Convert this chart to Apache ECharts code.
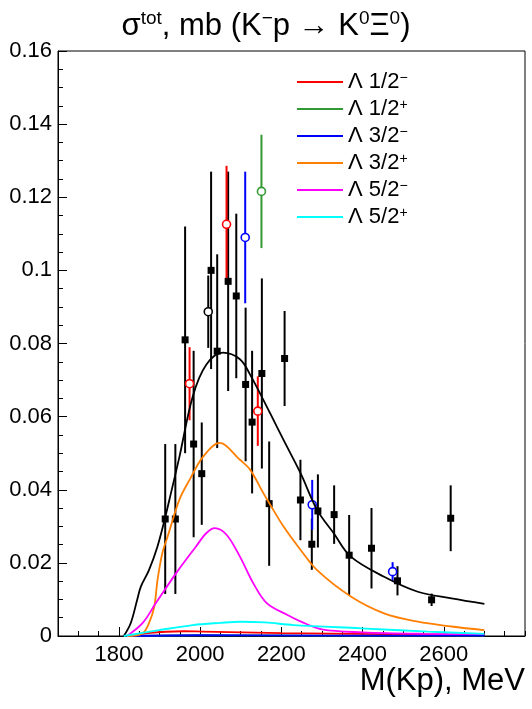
<!DOCTYPE html>
<html>
<head>
<meta charset="utf-8">
<script src="https://cdn.jsdelivr.net/npm/echarts@6/dist/echarts.min.js"></script>
<style>
  html, body { margin: 0; padding: 0; background: #fff; }
  #main { width: 532px; height: 709px; }
</style>
</head>
<body>
<div id="main"></div>
<script>
// measured points (black squares)
var sqX = [1914, 1939, 1963, 1984, 2004, 2027, 2042, 2069, 2089, 2112, 2128, 2152, 2170, 2208, 2247, 2275, 2290, 2330, 2367, 2422, 2486, 2570, 2617];
var sqY = [0.032, 0.032, 0.081, 0.0525, 0.0444, 0.100, 0.0779, 0.097, 0.093, 0.0688, 0.0585, 0.0718, 0.0362, 0.0759, 0.0372, 0.0251, 0.0342, 0.0332, 0.0221, 0.024, 0.0151, 0.0099, 0.0322];
var sqErr = [0.0205, 0.0205, 0.031, 0.0255, 0.014, 0.027, 0.0265, 0.030, 0.0225, 0.021, 0.0195, 0.026, 0.017, 0.013, 0.011, 0.007, 0.010, 0.008, 0.011, 0.011, 0.004, 0.0017, 0.009];

// open circles
var ocBlackX = [2020];
var ocBlackY = [0.0887];
var ocBlackErr = [0.0099];
var ocRedX = [1974, 2065, 2142];
var ocRedY = [0.069, 0.1126, 0.0615];
var ocRedErr = [0.010, 0.016, 0.0095];
var ocBlueX = [2111, 2276, 2474];
var ocBlueY = [0.109, 0.0359, 0.0176];
var ocBlueErr = [0.018, 0.0068, 0.0026];
var ocGreenX = [2151];
var ocGreenY = [0.1216];
var ocGreenErr = [0.0155];

// fit curves
var totX = [1812, 1829, 1845, 1854, 1874, 1895, 1913, 1928, 1949, 1982, 2015, 2056, 2098, 2123, 2172, 2205, 2247, 2288, 2329, 2371, 2453, 2536, 2619, 2700];
var totY = [0, 0.0035, 0.0099, 0.0135, 0.018, 0.0245, 0.032, 0.039, 0.049, 0.0656, 0.0742, 0.0775, 0.0757, 0.0715, 0.061, 0.0537, 0.0446, 0.0345, 0.0281, 0.0217, 0.0162, 0.0121, 0.0103, 0.0088];

var orX = [1820, 1858, 1874, 1887, 1895, 1907, 1920, 1949, 1974, 2007, 2048, 2098, 2123, 2156, 2170, 2205, 2247, 2288, 2371, 2453, 2536, 2619, 2700];
var orY = [0, 0.0007, 0.0035, 0.008, 0.0153, 0.0227, 0.0272, 0.0373, 0.0427, 0.049, 0.0528, 0.0482, 0.0455, 0.039, 0.0364, 0.030, 0.0236, 0.018, 0.0108, 0.0062, 0.0039, 0.0026, 0.0016];

var mgX = [1820, 1858, 1891, 1941, 1990, 2015, 2036, 2065, 2098, 2131, 2164, 2214, 2247, 2300, 2400, 2550, 2700];
var mgY = [0, 0.0035, 0.009, 0.0172, 0.0245, 0.0281, 0.0295, 0.0277, 0.0217, 0.0144, 0.009, 0.0058, 0.0040, 0.0018, 0.001, 0.0006, 0.0005];

var cyX = [1812, 1899, 1982, 2050, 2100, 2160, 2230, 2396, 2561, 2700];
var cyY = [0, 0.0016, 0.003, 0.0036, 0.0039, 0.0037, 0.0030, 0.0021, 0.0012, 0.0006];

var rdX = [1825, 1870, 1957, 2007, 2200, 2450, 2700];
var rdY = [0, 0.0008, 0.0013, 0.0012, 0.0008, 0.0005, 0.0003];

var grX = [1825, 2000, 2300, 2700];
var grY = [0, 0.0002, 0.0001, 0.0001];

var blX = [1825, 2000, 2300, 2700];
var blY = [0, 0.0002, 0.0001, 0.0001];

var xTickLabels = [1800, 2000, 2200, 2400, 2600];
var legendNames = ['Λ 1/2−', 'Λ 1/2+', 'Λ 3/2−', 'Λ 3/2+', 'Λ 5/2−', 'Λ 5/2+'];

var FONT = 'Liberation Sans, Arial, Helvetica, sans-serif';

function pairs(xs, ys) {
  return xs.map(function (x, i) { return [x, ys[i]]; });
}
function bars(xs, ys, es) {
  return xs.map(function (x, i) { return [x, ys[i] - es[i], ys[i] + es[i]]; });
}
function errSeries(data, color) {
  return {
    type: 'custom',
    data: data,
    encode: { x: 0, y: [1, 2] },
    z: 3,
    silent: true,
    renderItem: function (params, api) {
      var p1 = api.coord([api.value(0), api.value(1)]);
      var p2 = api.coord([api.value(0), api.value(2)]);
      return {
        type: 'line',
        shape: { x1: p1[0], y1: p1[1], x2: p2[0], y2: p2[1] },
        style: { stroke: color, lineWidth: 2 }
      };
    }
  };
}
function circles(xs, ys, color) {
  return {
    type: 'scatter',
    data: pairs(xs, ys),
    symbol: 'circle',
    symbolSize: 8,
    z: 4,
    itemStyle: { color: '#fff', borderColor: color, borderWidth: 1.6, opacity: 1 }
  };
}
function curve(name, xs, ys, color) {
  return {
    name: name,
    type: 'line',
    data: pairs(xs, ys),
    smooth: 0.35,
    showSymbol: false,
    z: 5,
    lineStyle: { color: color, width: 1.8 },
    itemStyle: { color: color }
  };
}

var chart = echarts.init(document.getElementById('main'));
chart.setOption({
  backgroundColor: '#fff',
  animation: false,
  title: {
    left: 'center',
    top: 4,
    text: '{a|σ}{s|tot}{a|, mb (K}{s|−}{a|p → K}{s|0}{a|Ξ}{s|0}{a|)}',
    textStyle: {
      fontWeight: 'normal',
      rich: {
        a: { fontFamily: FONT, fontSize: 31, fontWeight: 'normal', color: '#000', lineHeight: 34 },
        s: { fontFamily: FONT, fontSize: 19, fontWeight: 'normal', color: '#000', verticalAlign: 'top', lineHeight: 34, padding: [0, 0, 15, 0] }
      }
    }
  },
  legend: {
    orient: 'vertical',
    left: 292,
    top: 66,
    itemWidth: 46,
    itemHeight: 2,
    itemGap: 3,
    icon: 'rect',
    data: legendNames,
    formatter: function (n) {
      return '{t|' + n.slice(0, -1) + '}{s|' + n.slice(-1) + '}';
    },
    textStyle: {
      rich: {
        t: { fontFamily: FONT, fontSize: 22, color: '#000', lineHeight: 22 },
        s: { fontFamily: FONT, fontSize: 14, color: '#000', verticalAlign: 'top', lineHeight: 22, padding: [0, 0, 10, 0] }
      }
    }
  },
  grid: {
    left: 58, right: 7, top: 51, bottom: 73,
    show: true, borderColor: '#000', borderWidth: 1
  },
  xAxis: [{
    type: 'value',
    min: 1650, max: 2800,
    splitLine: { show: false },
    axisLine: { lineStyle: { color: '#000', width: 1 } },
    axisTick: { inside: true, length: 9, customValues: xTickLabels, lineStyle: { color: '#000' } },
    axisLabel: {
      customValues: xTickLabels, color: '#000', fontFamily: FONT, fontSize: 22, margin: 8,
      formatter: function (v) { return String(v); }
    }
  }, {
    type: 'value',
    min: 1650, max: 2800, interval: 50,
    position: 'bottom',
    splitLine: { show: false },
    axisLine: { show: false },
    axisTick: { inside: true, length: 5, lineStyle: { color: '#000' } },
    axisLabel: { show: false }
  }],
  yAxis: {
    type: 'value',
    min: 0, max: 0.16, interval: 0.02,
    splitLine: { show: false },
    axisLine: { lineStyle: { color: '#000', width: 1 } },
    axisTick: { inside: true, length: 9, lineStyle: { color: '#000' } },
    minorTick: { show: true, splitNumber: 4, length: 5, lineStyle: { color: '#000' } },
    axisLabel: {
      color: '#000', fontFamily: FONT, fontSize: 22, margin: 6,
      formatter: function (v) { return String(+v.toFixed(2)); }
    }
  },
  graphic: [{
    type: 'text',
    right: 7,
    top: 666,
    style: { text: 'M(Kp), MeV', fontFamily: FONT, fontSize: 31, fill: '#000' }
  }],
  series: [
    errSeries(bars(sqX, sqY, sqErr), '#000'),
    errSeries(bars(ocBlackX, ocBlackY, ocBlackErr), '#000'),
    errSeries(bars(ocRedX, ocRedY, ocRedErr), '#ff0000'),
    errSeries(bars(ocBlueX, ocBlueY, ocBlueErr), '#0000ff'),
    errSeries(bars(ocGreenX, ocGreenY, ocGreenErr), '#339933'),
    {
      type: 'scatter',
      data: pairs(sqX, sqY),
      symbol: 'rect',
      symbolSize: 7,
      z: 4,
      itemStyle: { color: '#000', opacity: 1 }
    },
    circles(ocBlackX, ocBlackY, '#000'),
    circles(ocRedX, ocRedY, '#ff0000'),
    circles(ocBlueX, ocBlueY, '#0000ff'),
    circles(ocGreenX, ocGreenY, '#339933'),
    curve('total', totX, totY, '#000'),
    curve(legendNames[1], grX, grY, '#339933'),
    curve(legendNames[0], rdX, rdY, '#ff0000'),
    curve(legendNames[2], blX, blY, '#0000ff'),
    curve(legendNames[3], orX, orY, '#ff7f00'),
    curve(legendNames[4], mgX, mgY, '#ff00ff'),
    curve(legendNames[5], cyX, cyY, '#00ffff')
  ]
});
</script>
</body>
</html>
